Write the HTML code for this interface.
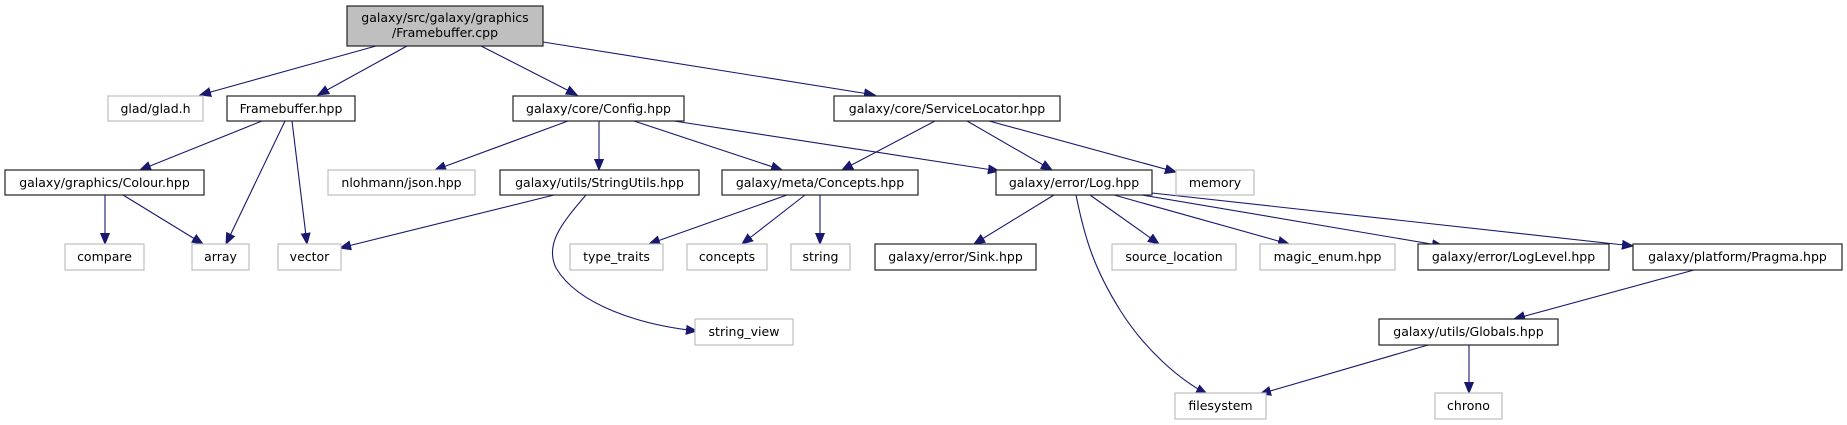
<!DOCTYPE html>
<html><head><meta charset="utf-8"><style>
html,body{margin:0;padding:0;background:#fff;}
svg{display:block;}
text{font-family:"DejaVu Sans","Liberation Sans",sans-serif;font-size:12.5px;fill:#000;text-anchor:middle;}
.b{fill:#fff;stroke:#222;stroke-width:1.2;}
.g{fill:#fff;stroke:#bfbfbf;stroke-width:1.2;}
.e{fill:none;stroke:#191970;stroke-width:1.1;marker-end:url(#a);}
</style></head><body>
<svg width="1847" height="425" viewBox="0 0 1847 425" xmlns="http://www.w3.org/2000/svg">
<defs><marker id="a" markerUnits="userSpaceOnUse" markerWidth="12" markerHeight="10" refX="11" refY="5" orient="auto"><path d="M0,0.5 L11,5 L0,9.5 Z" fill="#191970" stroke="#191970"/></marker></defs>
<!-- edges -->
<path class="e" d="M376,46 L200,95"/>
<path class="e" d="M407,46 L318,95"/>
<path class="e" d="M481,46 L577,95"/>
<path class="e" d="M543,42 L875,95"/>
<path class="e" d="M262,121 L140,170"/>
<path class="e" d="M285,121 L226,244"/>
<path class="e" d="M292,121 L307,244"/>
<path class="e" d="M105,195 L105,244"/>
<path class="e" d="M123,195 L203,244"/>
<path class="e" d="M568,121 L435,170"/>
<path class="e" d="M599,121 L599,170"/>
<path class="e" d="M634,121 L782,170"/>
<path class="e" d="M674,121 L999,171"/>
<path class="e" d="M935,121 L842,170"/>
<path class="e" d="M967,121 L1052,170"/>
<path class="e" d="M989,121 L1176,172"/>
<path class="e" d="M554,195 L340,248"/>
<path class="e" d="M586,195 C560,225 545,245 556,268 C578,305 640,325 697,331"/>
<path class="e" d="M787,195 L649,244"/>
<path class="e" d="M805,195 L742,244"/>
<path class="e" d="M820,195 L820,244"/>
<path class="e" d="M1054,195 L974,244"/>
<path class="e" d="M1076,195 C1085,240 1095,270 1120,310 C1145,350 1180,380 1207,394"/>
<path class="e" d="M1090,195 L1159,244"/>
<path class="e" d="M1114,195 L1289,244"/>
<path class="e" d="M1142,195 L1443,246"/>
<path class="e" d="M1152,193 L1633,246"/>
<path class="e" d="M1694,270 L1514,319"/>
<path class="e" d="M1428,345 L1260,394"/>
<path class="e" d="M1469,345 L1469,393"/>
<!-- nodes -->
<rect x="347" y="6" width="196" height="40" fill="#bfbfbf" stroke="#222" stroke-width="1.2"/>
<text x="445" y="22">galaxy/src/galaxy/graphics</text>
<text x="445" y="37">/Framebuffer.cpp</text>

<rect class="g" x="108" y="96" width="95" height="25"/><text x="155.5" y="113">glad/glad.h</text>
<rect class="b" x="227" y="96" width="128" height="25"/><text x="291" y="113">Framebuffer.hpp</text>
<rect class="b" x="513" y="96" width="171" height="25"/><text x="598.5" y="113">galaxy/core/Config.hpp</text>
<rect class="b" x="834" y="96" width="226" height="25"/><text x="947" y="113">galaxy/core/ServiceLocator.hpp</text>

<rect class="b" x="5" y="170" width="199" height="25"/><text x="104.5" y="187">galaxy/graphics/Colour.hpp</text>
<rect class="g" x="328" y="170" width="147" height="25"/><text x="401.5" y="187">nlohmann/json.hpp</text>
<rect class="b" x="500" y="170" width="199" height="25"/><text x="599.5" y="187">galaxy/utils/StringUtils.hpp</text>
<rect class="b" x="722" y="170" width="196" height="25"/><text x="820" y="187">galaxy/meta/Concepts.hpp</text>
<rect class="b" x="996" y="170" width="156" height="25"/><text x="1074" y="187">galaxy/error/Log.hpp</text>
<rect class="g" x="1176" y="170" width="78" height="25"/><text x="1215" y="187">memory</text>

<rect class="g" x="65" y="244" width="79" height="26"/><text x="104.5" y="261">compare</text>
<rect class="g" x="192" y="244" width="57" height="26"/><text x="220.5" y="261">array</text>
<rect class="g" x="278" y="244" width="63" height="26"/><text x="309.5" y="261">vector</text>
<rect class="g" x="570" y="244" width="93" height="26"/><text x="616.5" y="261">type_traits</text>
<rect class="g" x="687" y="244" width="80" height="26"/><text x="727" y="261">concepts</text>
<rect class="g" x="791" y="244" width="59" height="26"/><text x="820.5" y="261">string</text>
<rect class="b" x="875" y="244" width="161" height="26"/><text x="955.5" y="261">galaxy/error/Sink.hpp</text>
<rect class="g" x="1112" y="244" width="124" height="26"/><text x="1174" y="261">source_location</text>
<rect class="g" x="1260" y="244" width="135" height="26"/><text x="1327.5" y="261">magic_enum.hpp</text>
<rect class="b" x="1418" y="244" width="191" height="26"/><text x="1513.5" y="261">galaxy/error/LogLevel.hpp</text>
<rect class="b" x="1633" y="244" width="209" height="26"/><text x="1737.5" y="261">galaxy/platform/Pragma.hpp</text>

<rect class="g" x="695" y="319" width="98" height="26"/><text x="744" y="336">string_view</text>
<rect class="b" x="1379" y="319" width="179" height="26"/><text x="1468.5" y="336">galaxy/utils/Globals.hpp</text>

<rect class="g" x="1175" y="393" width="91" height="26"/><text x="1220.5" y="410">filesystem</text>
<rect class="g" x="1435" y="393" width="67" height="26"/><text x="1468.5" y="410">chrono</text>
</svg>
</body></html>
